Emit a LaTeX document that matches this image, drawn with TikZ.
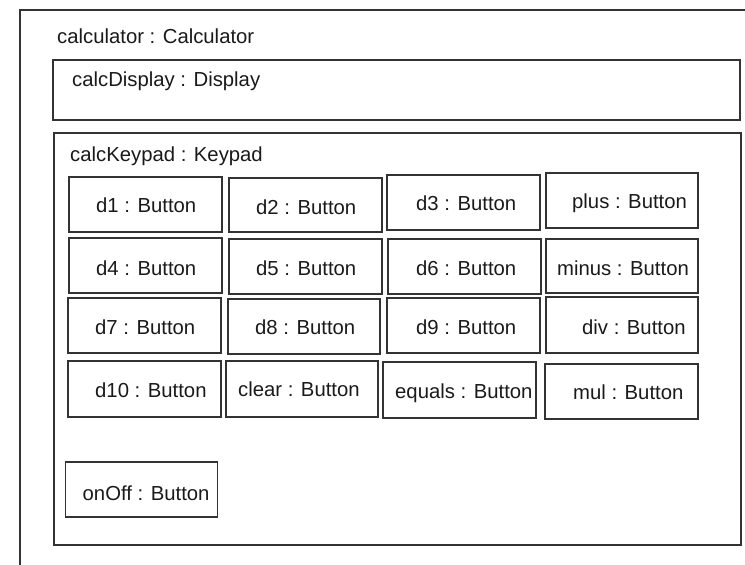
\documentclass[tikz,border=0pt]{standalone}
\usepackage{fontspec}
\setmainfont{Liberation Sans}
\usetikzlibrary{fit}
\definecolor{edge}{HTML}{333333}
\definecolor{ink}{HTML}{1A1A1A}
\tikzset{
  part/.style={draw=edge, line width=1.4pt, rectangle, inner sep=0pt, outer sep=0pt},
  txt/.style={text=ink, inner sep=0pt, anchor=base west, font=\fontsize{20.3}{24}\selectfont},
}
\begin{document}
\begin{tikzpicture}[x=1pt, y=-1pt]
  \useasboundingbox (0,0) rectangle (745,565);
  \clip (0,0) rectangle (745,565);
  \fill[white] (0,0) rectangle (745,565);

  % composite object and its two parts
  \node[part, fit={(20,10) (780,600)}] (calculator) {};
  \node[txt] (calculator-l) at (57,43.5) {calculator : Calculator};

  \node[part, fit={(53,60) (740,120)}] (display) {};
  \node[txt] (display-l) at (72,86) {calcDisplay : Display};

  \node[part, fit={(54,133) (741,545)}] (keypad) {};
  \node[txt] (keypad-l) at (70,161) {calcKeypad : Keypad};

  % buttons, row 1
  \node[part, fit={(69,177) (222,232)}] (d1) {};
  \node[txt] (d1-l) at (96,212) {d1 : Button};
  \node[part, fit={(229,178) (382,232)}] (d2) {};
  \node[txt] (d2-l) at (256,214) {d2 : Button};
  \node[part, fit={(387,175) (540,230)}] (d3) {};
  \node[txt] (d3-l) at (416,210) {d3 : Button};
  \node[part, fit={(546,173) (698,228)}] (plus) {};
  \node[txt] (plus-l) at (572,208) {plus : Button};

  % row 2
  \node[part, fit={(69,238) (222,293)}] (d4) {};
  \node[txt] (d4-l) at (96,275) {d4 : Button};
  \node[part, fit={(229,239) (382,294)}] (d5) {};
  \node[txt] (d5-l) at (256,275) {d5 : Button};
  \node[part, fit={(388,239) (541,294)}] (d6) {};
  \node[txt] (d6-l) at (416,275) {d6 : Button};
  \node[part, fit={(546,239) (698,293)}] (minus) {};
  \node[txt] (minus-l) at (557,275) {minus : Button};

  % row 3
  \node[part, fit={(68,298) (221,353)}] (d7) {};
  \node[txt] (d7-l) at (95,334) {d7 : Button};
  \node[part, fit={(228,299) (380,354)}] (d8) {};
  \node[txt] (d8-l) at (255,334) {d8 : Button};
  \node[part, fit={(387,298) (540,353)}] (d9) {};
  \node[txt] (d9-l) at (416,334) {d9 : Button};
  \node[part, fit={(546,297) (698,353)}] (div) {};
  \node[txt] (div-l) at (582,334) {div : Button};

  % row 4
  \node[part, fit={(68,361) (221,417)}] (d10) {};
  \node[txt] (d10-l) at (95,397) {d10 : Button};
  \node[part, fit={(226,361) (378,417)}] (clear) {};
  \node[txt] (clear-l) at (238,396) {clear : Button};
  \node[part, fit={(383,362) (536,418)}] (equals) {};
  \node[txt] (equals-l) at (395,398) {equals : Button};
  \node[part, fit={(545,364) (698,419)}] (mul) {};
  \node[txt] (mul-l) at (573,399) {mul : Button};

  % power button
  \node[part, fit={(65.5,462) (217.5,517)}] (onOff) {};
  \node[txt] (onOff-l) at (82.5,500) {onOff : Button};
\end{tikzpicture}
\end{document}
